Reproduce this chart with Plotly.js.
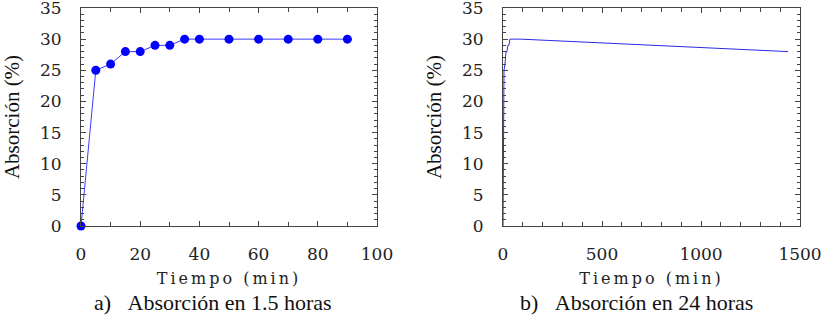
<!DOCTYPE html>
<html>
<head>
<meta charset="utf-8">
<script src="https://cdn.plot.ly/plotly-3.0.1.min.js"></script>
<style>
  html, body { margin: 0; padding: 0; background: #fff; }
  #chart { width: 826px; height: 319px; }
  .xtitle, .x2title { letter-spacing: 3px; }
</style>
</head>
<body>
<div id="chart"></div>
<script>
// Data
const tiempo15 = [0, 5, 10, 15, 20, 25, 30, 35, 40, 50, 60, 70, 80, 90];
const absorcion15 = [0, 25, 26, 28, 28, 29, 29, 30, 30, 30, 30, 30, 30, 30];
const tiempo24 = [0, 5, 10, 15, 20, 25, 30, 35, 40, 50, 60, 70, 80, 90, 1440];
const absorcion24 = [0, 25, 26, 28, 28, 29, 29, 30, 30, 30, 30, 30, 30, 30, 28];

const xTitle = 'Tiempo (min)';
const yTitle = 'Absorción (%)';
const captionA = 'a)&nbsp;&nbsp;&nbsp;Absorción en 1.5 horas';
const captionB = 'b)&nbsp;&nbsp;&nbsp;Absorción en 24 horas';

const W = 826, H = 319;
const px = v => v / W;
const py = v => (H - v) / H;

const lineCol = '#444';

function xAxis(domain, range, dtick, minorDtick) {
  return {
    domain: domain, range: range, dtick: dtick, tick0: 0,
    showline: true, linecolor: lineCol, linewidth: 1, mirror: 'ticks',
    ticks: 'inside', ticklen: 5, tickcolor: lineCol, tickwidth: 1,
    minor: { dtick: minorDtick, tick0: 0, ticks: 'inside', ticklen: 4, tickcolor: lineCol },
    showgrid: false, zeroline: false,
    tickfont: { family: 'DejaVu Serif', size: 17, color: '#222' },
    ticklabelstandoff: 13, ticklabeloverflow: 'allow',
    title: { text: xTitle, font: { family: 'DejaVu Serif', size: 16, color: '#222' }, standoff: 9 }
  };
}
function yAxis(domain, anchor) {
  return {
    domain: domain, range: [0, 35], dtick: 5, tick0: 0, anchor: anchor,
    showline: true, linecolor: lineCol, linewidth: 1, mirror: 'ticks',
    ticks: 'inside', ticklen: 5, tickcolor: lineCol, tickwidth: 1,
    minor: { dtick: 1, tick0: 0, ticks: 'inside', ticklen: 3, tickcolor: lineCol },
    showgrid: false, zeroline: false,
    tickfont: { family: 'DejaVu Serif', size: 17, color: '#222' },
    ticklabelstandoff: 15, ticklabeloverflow: 'allow',
    title: { text: yTitle, font: { family: 'Liberation Serif', size: 21, color: '#111' }, standoff: 14 }
  };
}

const yDom = [py(226), py(8)];

const traces = [
  {
    x: tiempo15, y: absorcion15, xaxis: 'x', yaxis: 'y',
    type: 'scatter', mode: 'lines+markers',
    line: { color: '#3a3aff', width: 1 },
    marker: { color: '#0000ff', size: 9 },
    cliponaxis: false, showlegend: false
  },
  {
    x: tiempo24, y: absorcion24, xaxis: 'x2', yaxis: 'y2',
    type: 'scatter', mode: 'lines',
    line: { color: '#2a2ae8', width: 1 },
    showlegend: false
  }
];

const layout = {
  width: W, height: H,
  margin: { l: 0, r: 0, t: 0, b: 0 },
  paper_bgcolor: '#fff', plot_bgcolor: '#fff',
  font: { family: 'Liberation Serif', color: '#111' },
  showlegend: false,
  xaxis: xAxis([px(81), px(377)], [0, 100], 20, 10),
  yaxis: yAxis(yDom, 'x'),
  xaxis2: Object.assign(xAxis([px(503), px(800)], [0, 1500], 500, 100), { anchor: 'y2' }),
  yaxis2: yAxis(yDom, 'x2'),
  annotations: [
    { text: captionA, xref: 'paper', yref: 'paper', x: px(213), y: py(302),
      xanchor: 'center', yanchor: 'middle', showarrow: false,
      font: { family: 'Liberation Serif', size: 22, color: '#111' } },
    { text: captionB, xref: 'paper', yref: 'paper', x: px(636), y: py(302),
      xanchor: 'center', yanchor: 'middle', showarrow: false,
      font: { family: 'Liberation Serif', size: 22, color: '#111' } }
  ]
};

Plotly.newPlot('chart', traces, layout, { displayModeBar: false });
</script>
</body>
</html>
